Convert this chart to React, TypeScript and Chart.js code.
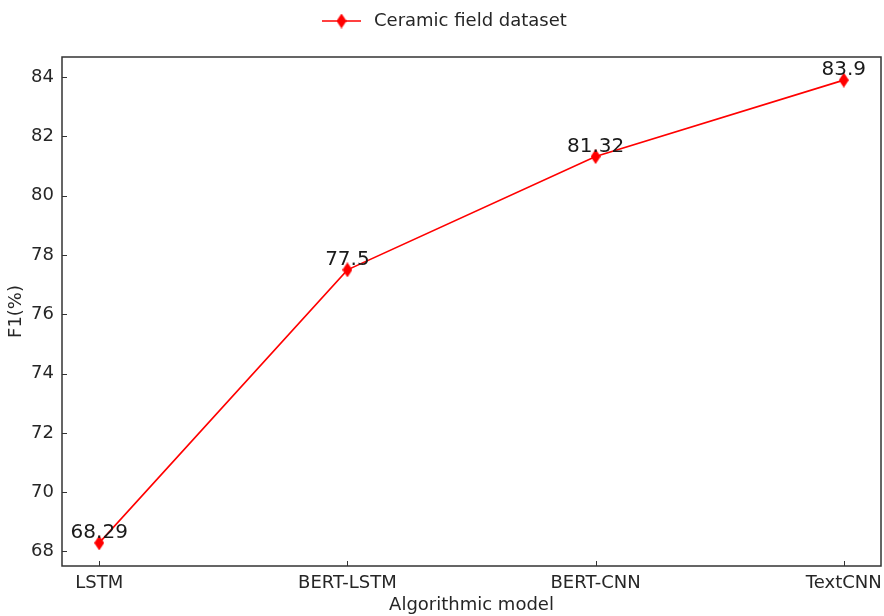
import { useEffect, useRef } from "react";
import { Chart, registerables } from "chart.js";

Chart.register(...registerables);

const categories = ["LSTM", "BERT-LSTM", "BERT-CNN", "TextCNN"];
const f1Values = [68.29, 77.5, 81.32, 83.9];
const valueLabels = ["68.29", "77.5", "81.32", "83.9"];
const yTicks = [68, 70, 72, 74, 76, 78, 80, 82, 84];
const seriesLabel = "Ceramic field dataset";
const xTitle = "Algorithmic model";
const yTitle = "F1(%)";

const FONT = "'DejaVu Sans', sans-serif";
const TEXT = "#262626";
const RED = "#ff0000";
const FS = 18;

function makeDiamond(w: number, h: number): HTMLCanvasElement {
  const c = document.createElement("canvas");
  c.width = w;
  c.height = h;
  const g = c.getContext("2d")!;
  g.fillStyle = RED;
  g.beginPath();
  g.moveTo(w / 2, 0);
  g.lineTo(w, h / 2);
  g.lineTo(w / 2, h);
  g.lineTo(0, h / 2);
  g.closePath();
  g.fill();
  return c;
}

export default function App() {
  const ref = useRef<HTMLCanvasElement>(null);

  useEffect(() => {
    document.body.style.margin = "0";
    const diamond = makeDiamond(10, 15);

    const framePlugin = {
      id: "frameTicks",
      afterDatasetsDraw(chart: any) {
        const { ctx, chartArea: a, scales } = chart;
        ctx.save();
        // value labels
        const meta = chart.getDatasetMeta(0);
        ctx.fillStyle = "#1a1a1a";
        ctx.font = `20px ${FONT}`;
        ctx.textAlign = "center";
        ctx.textBaseline = "alphabetic";
        meta.data.forEach((pt: any, i: number) => {
          ctx.fillText(valueLabels[i], pt.x, pt.y - 5);
        });
        // category labels
        ctx.fillStyle = TEXT;
        ctx.font = `${FS}px ${FONT}`;
        categories.forEach((c, i) => {
          ctx.fillText(c, scales.x.getPixelForValue(i), a.bottom + 22);
        });
        // frame
        ctx.strokeStyle = "#333333";
        ctx.lineWidth = 1.5;
        ctx.strokeRect(a.left, a.top, a.right - a.left, a.bottom - a.top);
        // inward ticks
        ctx.lineWidth = 1;
        ctx.beginPath();
        yTicks.forEach((v) => {
          const y = Math.round(scales.y.getPixelForValue(v)) + 0.5;
          ctx.moveTo(a.left, y);
          ctx.lineTo(a.left + 5, y);
        });
        categories.forEach((_, i) => {
          const x = Math.round(scales.x.getPixelForValue(i)) + 0.5;
          ctx.moveTo(x, a.bottom);
          ctx.lineTo(x, a.bottom - 5);
        });
        ctx.stroke();
        // legend
        const ly = 21;
        const lx = 322;
        ctx.strokeStyle = RED;
        ctx.lineWidth = 1.5;
        ctx.beginPath();
        ctx.moveTo(lx, ly);
        ctx.lineTo(lx + 39, ly);
        ctx.stroke();
        ctx.drawImage(diamond, lx + 19.5 - 5, ly - 7.5);
        ctx.fillStyle = TEXT;
        ctx.font = `${FS}px ${FONT}`;
        ctx.textAlign = "left";
        ctx.textBaseline = "middle";
        ctx.fillText(seriesLabel, 374, ly);
        ctx.restore();
      },
    };

    const chart = new Chart(ref.current!, {
      type: "line",
      data: {
        datasets: [
          {
            label: seriesLabel,
            data: f1Values.map((v, i) => ({ x: i, y: v })),
            borderColor: RED,
            backgroundColor: RED,
            borderWidth: 1.6,
            pointStyle: diamond as any,
            pointRadius: 6,
            pointHoverRadius: 6,
            fill: false,
            tension: 0,
            clip: false as any,
          },
        ],
      },
      options: {
        responsive: false,
        animation: false,
        devicePixelRatio: 1,
        layout: { autoPadding: false, padding: { top: 57, right: 3, left: 0, bottom: 0 } },
        plugins: {
          legend: { display: false },
          tooltip: { enabled: false },
        },
        scales: {
          x: {
            type: "linear",
            min: -0.15,
            max: 3.15,
            grid: { display: false, drawTicks: false },
            border: { display: false },
            afterBuildTicks: (s: any) => {
              s.ticks = categories.map((_, i) => ({ value: i }));
            },
            afterFit: (s: any) => {
              s.height = 50;
            },
            ticks: { display: false },
            title: {
              display: true,
              text: xTitle,
              color: TEXT,
              font: { family: FONT, size: FS },
              padding: { top: 0, bottom: 0 },
            },
          },
          y: {
            type: "linear",
            min: 67.51,
            max: 84.68,
            grid: { display: false, drawTicks: false },
            border: { display: false },
            afterBuildTicks: (s: any) => {
              s.ticks = yTicks.map((v) => ({ value: v }));
            },
            afterFit: (s: any) => {
              s.width = 62;
            },
            ticks: {
              padding: 8,
              color: TEXT,
              font: { family: FONT, size: FS },
            },
            title: {
              display: true,
              text: yTitle,
              color: TEXT,
              font: { family: FONT, size: FS },
              padding: { top: 6, bottom: 0 },
            },
          },
        },
      },
      plugins: [framePlugin],
    });
    return () => chart.destroy();
  }, []);

  return (
    <div style={{ width: 884, height: 616 }}>
      <canvas ref={ref} width={884} height={616} style={{ display: "block" }} />
    </div>
  );
}
